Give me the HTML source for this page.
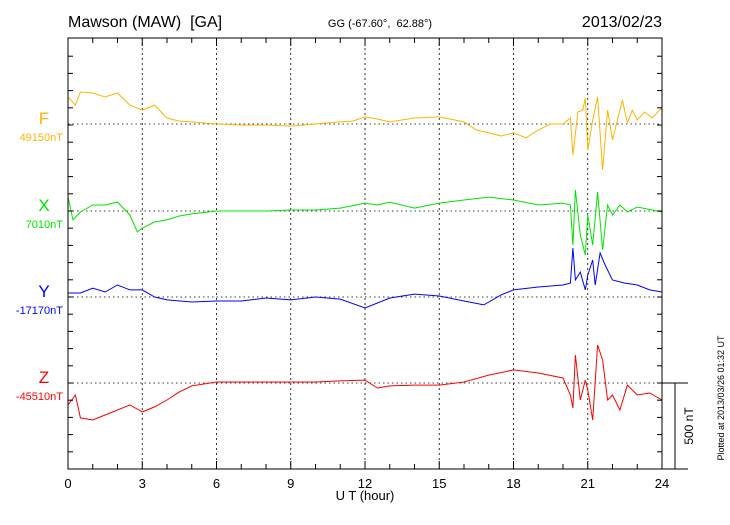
<!DOCTYPE html>
<html><head><meta charset="utf-8"><style>
body{margin:0;background:#fff;}
svg text{font-family:"Liberation Sans",sans-serif;white-space:pre;}
</style></head><body>
<svg id="chart" width="730" height="520" xmlns="http://www.w3.org/2000/svg">
<text x="68" y="27" font-size="16">Mawson (MAW)  [GA]</text>
<text x="380" y="27" font-size="11" text-anchor="middle">GG (-67.60°,  62.88°)</text>
<text x="662" y="27" font-size="16" text-anchor="end">2013/02/23</text>
<g id="grid"></g>
<g id="series"></g>
<g id="axes"></g>
<text x="365" y="500" font-size="13" text-anchor="middle">U T (hour)</text>
<text transform="translate(693,426) rotate(-90)" font-size="12" text-anchor="middle">500 nT</text>
<text transform="translate(724,398) rotate(-90)" font-size="9" text-anchor="middle">Plotted at 2013/03/26 01:32 UT</text>
</svg>
<script>
const xTicks=[0,3,6,9,12,15,18,21,24];
const seriesNames=["F","X","Y","Z"];
const baseValues=["49150nT","7010nT","-17170nT","-45510nT"];
const fTimes=[0,0.3,0.5,1,1.5,2,2.5,3,3.5,4,4.5,5,6,7,8,9,10,11,11.5,12,12.5,13,14,15,16,16.5,17,17.5,18,18.5,19,19.5,20,20.3,20.4,20.6,20.8,20.9,21.0,21.2,21.4,21.6,21.8,22,22.2,22.4,22.6,22.8,23,23.3,23.6,24];
const fValues=[157,110,186,180,157,180,110,81,110,35,17,12,0,-6,-6,-12,0,12,17,41,29,12,35,41,12,-35,-52,-70,-52,-81,-35,0,0,35,-180,70,81,151,-151,23,157,-267,81,-93,23,139,6,81,23,70,35,93];
const xTimes=[0,0.2,0.5,1,1.5,2,2.5,2.8,3,3.5,4,4.5,5,6,7,8,9,10,11,12,12.5,13,14,15,16,17,18,19,20,20.3,20.4,20.5,20.7,20.9,21,21.2,21.4,21.6,21.8,22,22.3,22.6,23,24];
const xValues=[81,-52,-6,35,35,52,-23,-122,-99,-64,-52,-29,-17,0,0,0,6,6,17,46,35,52,17,46,64,81,64,35,46,35,-198,122,-139,-256,-23,-198,110,-227,35,-23,35,-6,23,-6];
const yTimes=[0,0.5,1,1.5,2,2.5,3,3.5,4,5,6,7,8,9,10,11,12,12.5,13,14,15,16,16.8,17.5,18,19,20,20.3,20.4,20.5,20.7,20.9,21,21.2,21.3,21.5,21.7,22,22.5,23,23.5,24];
const yValues=[23,23,52,29,70,41,41,0,-17,-29,-23,-23,-6,-17,0,-12,-64,-35,-6,17,6,-23,-46,12,41,58,70,81,285,99,145,41,128,215,70,256,186,99,81,70,41,29];
const zTimes=[0,0.3,0.5,1,1.5,2,2.5,3,3.5,4,4.5,5,6,7,8,9,10,11,12,12.5,13,14,15,16,17,18,19,20,20.3,20.4,20.5,20.7,20.9,21,21.2,21.4,21.6,21.8,22,22.3,22.6,23,23.5,24];
const zValues=[-128,-70,-203,-215,-186,-157,-128,-168,-139,-99,-52,-17,6,6,6,6,6,12,17,-29,-17,-12,-12,6,46,76,58,29,-70,-145,163,-99,17,-41,-215,221,134,-99,-70,-157,-12,-70,-58,-99];

const L=68,R=662,T=38,B=469;
const NS="http://www.w3.org/2000/svg";
const xs=h=>L+h*(R-L)/24;
const pxPerNT=86/500;
const bases=[124,211,297,383];
const ys=(v,i)=>bases[i]-v*pxPerNT;
const colors=["#ffb400","#00e400","#0000ff","#ff0000"];
function mk(tag,attrs,parent){const e=document.createElementNS(NS,tag);for(const k in attrs)e.setAttribute(k,attrs[k]);parent.appendChild(e);return e;}
const grid=document.getElementById('grid'),ser=document.getElementById('series'),ax=document.getElementById('axes');
xTicks.forEach(h=>{if(h>0&&h<24){const l=mk('line',{x1:xs(h),x2:xs(h),y1:T,y2:B,stroke:'#000','stroke-width':0.8,'stroke-dasharray':'2,3'},grid);

}
const t=mk('text',{x:xs(h),y:488,'font-size':13,'text-anchor':'middle'},ax);t.textContent=h;

});
bases.forEach((b,i)=>{const l=mk('line',{x1:L,x2:R,y1:b,y2:b,stroke:'#000','stroke-width':0.8,'stroke-dasharray':'1.5,3'},grid);


const n=mk('text',{x:44,y:b-0,'font-size':17,'text-anchor':'middle',fill:colors[i]},ax);n.textContent=seriesNames[i];


const v=mk('text',{x:63,y:b+17,'font-size':11,'text-anchor':'end',fill:colors[i]},ax);v.textContent=baseValues[i];

});
const allT=[fTimes,xTimes,yTimes,zTimes],allV=[fValues,xValues,yValues,zValues];
allT.forEach((ts,i)=>{const d=ts.map((t,k)=>(k?'L':'M')+xs(t).toFixed(1)+','+ys(allV[i][k],i).toFixed(1)).join('');
const p=mk('path',{d:d,fill:'none',stroke:colors[i],'stroke-width':1},ser);

});
const fr=mk('rect',{x:L,y:T,width:R-L,height:B-T,fill:'none',stroke:'#000','stroke-width':1},ax);


for(let h=1;h<24;h++){const len=h%3===0?8:5;
mk('line',{x1:xs(h),x2:xs(h),y1:T,y2:T+len,stroke:'#000'},ax);
mk('line',{x1:xs(h),x2:xs(h),y1:B,y2:B-len,stroke:'#000'},ax);}
for(let y=B-17.2;y>T+2;y-=17.2){mk('line',{x1:L,x2:L+5,y1:y,y2:y,stroke:'#000'},ax);mk('line',{x1:R,x2:R-5,y1:y,y2:y,stroke:'#000'},ax);}
const sb=mk('path',{d:`M${R},${bases[3]}H688M675,${bases[3]}V${B}M${R},${B}H688`,stroke:'#000',fill:'none'},ax);


</script>
</body></html>
